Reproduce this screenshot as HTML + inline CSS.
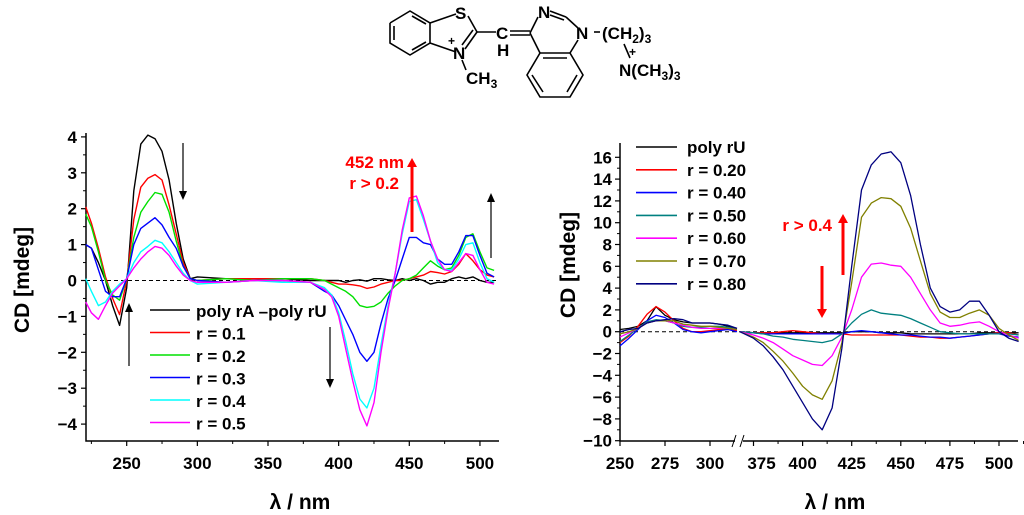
<!DOCTYPE html>
<html><head><meta charset="utf-8"><style>
body{margin:0;background:#fff;}
svg{display:block;font-family:"Liberation Sans",Arial,sans-serif;font-weight:bold;}
</style></head><body>
<svg id="fig" width="1024" height="515" viewBox="0 0 1024 515">
<g id="structure" stroke="#000" stroke-width="1.6" fill="none">
  <polyline points="390,23 390,43 410,55 430,43 430,23 410,11 390,23"/>
  <line x1="394" y1="26" x2="394" y2="40"/><line x1="412" y1="50" x2="426" y2="42"/><line x1="412" y1="16" x2="426" y2="24"/>
  <line x1="430" y1="23" x2="456" y2="14"/><line x1="468" y1="16" x2="477" y2="32"/>
  <line x1="477" y1="32" x2="465" y2="49"/><line x1="473" y1="30" x2="462" y2="45"/>
  <line x1="456" y1="52" x2="430" y2="43"/>
  <line x1="462" y1="60" x2="466" y2="70"/>
  <line x1="477" y1="32" x2="496" y2="32"/>
  <line x1="510" y1="31" x2="530" y2="31"/><line x1="510" y1="35" x2="530" y2="35"/>
  <line x1="530" y1="33" x2="538" y2="17"/><line x1="550" y1="11" x2="566" y2="17"/><line x1="550" y1="15" x2="564" y2="20"/>
  <line x1="566" y1="17" x2="578" y2="28"/><line x1="578" y1="40" x2="570" y2="53"/>
  <line x1="530" y1="33" x2="540" y2="53"/>
  <polyline points="540,53 570,53 583,75 570,97 540,97 527,75 540,53"/>
  <line x1="543" y1="58" x2="567" y2="58"/><line x1="577" y1="75" x2="567" y2="92"/><line x1="532" y1="75" x2="543" y2="92"/>
  <line x1="594" y1="32" x2="600" y2="32"/>
  <line x1="624" y1="44" x2="630" y2="58"/>
</g>
<g font-size="17" fill="#000">
  <text x="455" y="19">S</text>
  <text x="453" y="59">N</text><text x="448" y="45" font-size="12">+</text>
  <text x="466" y="84">CH<tspan font-size="12" dy="4">3</tspan></text>
  <text x="496" y="39">C</text><text x="497" y="56">H</text>
  <text x="538" y="18">N</text>
  <text x="576" y="39">N</text>
  <text x="602" y="39">(CH<tspan font-size="12" dy="4">2</tspan><tspan dy="-4">)</tspan><tspan font-size="12" dy="4">3</tspan></text>
  <text x="629" y="56" font-size="12">+</text>
  <text x="619" y="76">N(CH<tspan font-size="12" dy="4">3</tspan><tspan dy="-4">)</tspan><tspan font-size="12" dy="4">3</tspan></text>
</g>
<g id="left"></g>
<g id="right"></g>
</svg>
<script>
// ---------- Left chart data ----------
const lamL = [221,225,230,235,240,245,250,255,260,265,270,275,280,285,290,295,300,320,340,360,380,390,395,400,405,410,415,420,425,430,435,440,445,450,455,460,465,470,475,480,485,490,495,500,505,510];
const polyAU = [1.0,0.9,0.5,0.0,-0.7,-1.25,-0.2,2.5,3.8,4.05,3.95,3.6,2.8,1.6,0.6,0.05,0.1,0.05,0.05,0.05,0.0,0.0,0.0,0.0,-0.05,0.0,0.02,-0.02,0.05,0.05,0.02,0.0,0.05,0.0,0.05,0.0,-0.1,-0.05,-0.05,0.05,0.1,0.05,0.1,0.0,-0.05,-0.05];
const rL01 = [2.05,1.6,0.9,0.1,-0.5,-0.95,0.0,1.7,2.6,2.85,2.95,2.8,2.1,1.3,0.5,0.05,0.0,0.05,0.05,0.05,0.05,0,-0.05,-0.1,-0.1,-0.12,-0.15,-0.22,-0.18,-0.1,-0.05,0.0,0.0,0.05,0.1,0.15,0.25,0.22,0.18,0.25,0.45,0.75,0.55,0.3,0.15,0.1];
const rL02 = [1.85,1.5,0.8,0.0,-0.4,-0.55,0.05,1.2,1.9,2.2,2.45,2.4,1.9,1.1,0.4,0.05,0.0,0.05,0.0,0.05,0.05,0.0,-0.1,-0.2,-0.3,-0.45,-0.7,-0.75,-0.72,-0.6,-0.35,-0.15,0.0,0.05,0.15,0.35,0.55,0.4,0.3,0.35,0.7,1.2,1.3,0.8,0.35,0.28];
const rL03 = [1.0,0.9,0.3,-0.3,-0.45,-0.45,0.05,1.0,1.45,1.6,1.75,1.55,1.2,0.9,0.4,0.05,0.0,-0.05,0.0,0.0,-0.05,-0.3,-0.4,-0.7,-1.1,-1.5,-2.0,-2.25,-2.0,-1.2,-0.5,0.0,0.6,1.2,1.2,1.05,1.0,0.6,0.45,0.45,0.8,1.25,1.25,0.7,0.2,0.1];
const rL04 = [0.05,-0.3,-0.7,-0.6,-0.3,-0.1,0.05,0.5,0.8,0.95,1.12,1.05,0.8,0.5,0.2,0.0,-0.1,-0.05,0.0,-0.05,-0.05,-0.2,-0.4,-0.9,-1.7,-2.6,-3.3,-3.55,-3.0,-1.8,-0.7,0.2,1.3,2.2,2.25,1.7,1.1,0.5,0.3,0.3,0.6,1.0,1.05,0.5,0.05,-0.05];
const rL05 = [-0.6,-0.9,-1.08,-0.7,-0.35,-0.15,0.05,0.35,0.6,0.8,0.95,0.9,0.7,0.4,0.15,0.0,-0.05,-0.05,0.0,0.0,-0.05,-0.25,-0.45,-1.0,-1.9,-2.8,-3.6,-4.05,-3.4,-2.0,-0.8,0.2,1.4,2.3,2.35,1.8,1.1,0.6,0.3,0.25,0.5,0.75,0.7,0.3,-0.05,-0.1];
const yTicksL = [-4,-3,-2,-1,0,1,2,3,4];
const xTicksL = [250,300,350,400,450,500];
const legendL = ["poly rA \u2013poly rU","r = 0.1","r = 0.2","r = 0.3","r = 0.4","r = 0.5"];

// ---------- Right chart data ----------
const lamRA = [250,255,260,265,270,275,280,285,290,295,300,305,310,315];
const lamRB = [368,375,380,385,390,395,400,405,410,415,420,425,430,435,440,445,450,455,460,465,470,475,480,485,490,495,500,505,510];
const rUA = [0.2,0.3,0.5,1.0,2.3,1.5,1.1,0.9,0.8,0.8,0.8,0.7,0.5,0.3];
const rUB = [0,-0.1,-0.1,-0.1,-0.1,-0.1,-0.1,-0.1,-0.1,-0.1,-0.1,0,0,0,-0.1,-0.1,-0.1,-0.2,-0.2,-0.2,-0.2,-0.2,-0.2,-0.2,-0.1,-0.1,-0.1,-0.1,-0.1];
const r20A = [-1.0,-0.4,0.5,1.6,2.3,1.8,1.0,0.3,0.0,0.0,0.1,0.2,0.2,0.1];
const r20B = [0,-0.1,-0.1,-0.1,0,0.1,0,-0.1,-0.2,-0.2,-0.2,-0.3,-0.3,-0.3,-0.3,-0.3,-0.3,-0.4,-0.5,-0.5,-0.6,-0.6,-0.5,-0.4,-0.3,-0.2,-0.1,-0.1,-0.3];
const r40A = [-1.3,-0.6,0.2,1.0,1.5,1.3,0.8,0.2,0.0,-0.1,0.0,0.1,0.2,0.0];
const r40B = [0,-0.1,-0.2,-0.2,-0.2,-0.2,-0.2,-0.2,-0.2,-0.2,-0.2,0,0.1,0,-0.1,-0.2,-0.3,-0.3,-0.4,-0.5,-0.5,-0.6,-0.5,-0.4,-0.3,-0.2,-0.2,-0.4,-0.5];
const r50A = [-0.9,-0.3,0.3,0.9,1.1,1.0,0.8,0.5,0.4,0.4,0.5,0.5,0.4,0.2];
const r50B = [0,-0.1,-0.2,-0.4,-0.5,-0.7,-0.8,-0.9,-1.0,-0.8,-0.2,0.8,1.6,2.0,1.7,1.6,1.5,1.2,0.8,0.4,0.0,-0.1,-0.2,-0.2,-0.2,-0.2,-0.2,-0.2,-0.3];
const r60A = [-0.5,-0.1,0.3,0.8,1.0,1.0,0.8,0.6,0.4,0.3,0.3,0.3,0.3,0.2];
const r60B = [0,-0.3,-0.6,-1.0,-1.6,-2.2,-2.6,-3.0,-3.1,-2.2,-0.5,2.0,5.0,6.2,6.3,6.1,6.0,5.0,3.5,2.0,0.8,0.5,0.6,0.8,0.9,0.5,0.0,-0.3,-0.6];
const r70A = [-0.2,0.0,0.3,0.8,1.0,1.0,1.0,0.7,0.6,0.5,0.5,0.4,0.3,0.2];
const r70B = [0,-0.5,-1.0,-1.8,-2.7,-3.8,-5.0,-5.8,-6.2,-4.5,-1.0,4.5,10.5,11.8,12.3,12.2,11.5,9.5,6.5,3.5,1.8,1.3,1.3,1.7,2.0,1.5,0.3,-0.3,-0.8];
const r80A = [0.0,0.2,0.3,0.8,1.0,1.1,1.2,1.1,0.8,0.8,0.8,0.7,0.6,0.3];
const r80B = [0,-0.6,-1.3,-2.3,-3.5,-5.0,-6.5,-8.0,-9.0,-7.0,-1.5,6.0,13.0,15.3,16.3,16.5,15.5,12.5,8.0,4.0,2.3,1.8,2.0,2.8,2.8,1.5,0.0,-0.6,-0.9];
const yTicksR = [-10,-8,-6,-4,-2,0,2,4,6,8,10,12,14,16];
const xTicksRA = [250,275,300];
const xTicksRB = [375,400,425,450,475,500];
const legendR = ["poly rU","r = 0.20","r = 0.40","r = 0.50","r = 0.60","r = 0.70","r = 0.80"];

const NS="http://www.w3.org/2000/svg";
function mk(parent,tag,attrs,text){const e=document.createElementNS(NS,tag);for(const k in attrs)e.setAttribute(k,attrs[k]);if(text!==undefined)e.textContent=text;parent.appendChild(e);return e;}
function pathD(xs,ys,fx,fy){return xs.map((x,i)=>(i?'L':'M')+fx(x).toFixed(1)+','+fy(ys[i]).toFixed(1)).join(' ');}
function arrow(g,x,y1,y2,color,w,name){
  const l=mk(g,'line',{x1:x,y1:y1,x2:x,y2:y2+(y2>y1?-6:6),stroke:color,'stroke-width':w});
  
  
  const d=y2>y1?1:-1; const hw=w>1.5?5:4;
  const p=mk(g,'polygon',{points:`${x-hw},${y2-9*d} ${x+hw},${y2-9*d} ${x},${y2}`,fill:color});
  
  
}

// ===== Left chart =====
(function(){
  const g=document.getElementById('left');
  const xL=l=>126.7+(l-250)*1.413, yL=v=>280.5-v*35.9;
  const X0=86,X1=499,Y0=441,YT=133;
  mk(g,'line',{x1:X0,y1:yL(0),x2:X1,y2:yL(0),stroke:'#000','stroke-width':1,'stroke-dasharray':'4,3'});
  const ax=mk(g,'path',{d:`M${X0},${YT} L${X0},${Y0} L${X1},${Y0}`,stroke:'#000','stroke-width':1.5,fill:'none'});
  
  
  yTicksL.forEach(v=>{
    mk(g,'line',{x1:X0-5,y1:yL(v),x2:X0,y2:yL(v),stroke:'#000','stroke-width':1.2});
    if(v<4) mk(g,'line',{x1:X0-3,y1:yL(v+0.5),x2:X0,y2:yL(v+0.5),stroke:'#000','stroke-width':1});
    const t=mk(g,'text',{x:X0-9,y:yL(v)+6,'text-anchor':'end','font-size':17},(v<0?'\u2212':'')+Math.abs(v));
    
    
  });
  xTicksL.forEach(l=>{
    mk(g,'line',{x1:xL(l),y1:Y0,x2:xL(l),y2:Y0+5,stroke:'#000','stroke-width':1.2});
    mk(g,'line',{x1:xL(l-25),y1:Y0,x2:xL(l-25),y2:Y0+3,stroke:'#000','stroke-width':1});
    const t=mk(g,'text',{x:xL(l),y:469,'text-anchor':'middle','font-size':17},String(l));
    
    
  });
  const series=[polyAU,rL01,rL02,rL03,rL04,rL05];
  const cols=['#000','#ff0000','#00e000','#0000ff','#00ffff','#ff00ff'];
  series.forEach((s,i)=>{
    const p=mk(g,'path',{d:pathD(lamL,s,xL,yL),stroke:cols[i],'stroke-width':1.4,fill:'none','stroke-linejoin':'round'});
    
    
  });
  legendL.forEach((t,i)=>{
    const y=311+i*22.5;
    const ln=mk(g,'line',{x1:150,y1:y-1,x2:190,y2:y-1,stroke:cols[i],'stroke-width':1.6});
    
    
    const tx=mk(g,'text',{x:196,y:y+6,'font-size':17},t);
    
    
  });
  arrow(g,183,143,200,'#000',1.2,'arrow-down-270');
  arrow(g,129,366,303,'#000',1.2,'arrow-up-250');
  arrow(g,330,327,388,'#000',1.2,'arrow-down-395');
  arrow(g,491,258,193,'#000',1.2,'arrow-up-510');
  arrow(g,412,232,158,'#ff0000',3,'red-arrow-452');
  const a1=mk(g,'text',{x:404,y:168,'text-anchor':'end','font-size':17,fill:'#ff0000'},'452 nm');
  
  
  const a2=mk(g,'text',{x:399,y:189,'text-anchor':'end','font-size':17,fill:'#ff0000'},'r > 0.2');
  
  
  const yl=mk(g,'text',{x:0,y:0,transform:'translate(29,280) rotate(-90)','text-anchor':'middle','font-size':21},'CD [mdeg]');
  
  
  const xl=mk(g,'text',{x:300,y:509,'text-anchor':'middle','font-size':21},'\u03bb / nm');
  
  
})();

// ===== Right chart =====
(function(){
  const g=document.getElementById('right');
  const xA=l=>620+(l-250)*1.8, xB=l=>851.7+(l-425)*1.964, yR=v=>331.7-v*10.9;
  const X0=620,X1=1018,Y0=441,YT=143,BR1=735,BR2=743;
  mk(g,'line',{x1:X0,y1:yR(0),x2:X1,y2:yR(0),stroke:'#000','stroke-width':1,'stroke-dasharray':'4,3'});
  const ax=mk(g,'path',{d:`M${X0},${YT} L${X0},${Y0} L${BR1},${Y0} M${BR2},${Y0} L${X1},${Y0}`,stroke:'#000','stroke-width':1.5,fill:'none'});
  
  
  mk(g,'path',{d:`M${BR1-3},${Y0+6} L${BR1+1},${Y0-6} M${BR2-3},${Y0+6} L${BR2+1},${Y0-6}`,stroke:'#000','stroke-width':1});
  yTicksR.forEach(v=>{
    mk(g,'line',{x1:X0-5,y1:yR(v),x2:X0,y2:yR(v),stroke:'#000','stroke-width':1.2});
    if(v<16) mk(g,'line',{x1:X0-3,y1:yR(v+1),x2:X0,y2:yR(v+1),stroke:'#000','stroke-width':1});
    const t=mk(g,'text',{x:X0-8,y:yR(v)+6,'text-anchor':'end','font-size':17},(v<0?'\u2212':'')+Math.abs(v));
    
    
  });
  xTicksRA.forEach(l=>{
    mk(g,'line',{x1:xA(l),y1:Y0,x2:xA(l),y2:Y0+5,stroke:'#000','stroke-width':1.2});
    const t=mk(g,'text',{x:xA(l),y:469,'text-anchor':'middle','font-size':17},String(l));
    
    
  });
  xTicksRB.forEach(l=>{
    mk(g,'line',{x1:xB(l),y1:Y0,x2:xB(l),y2:Y0+5,stroke:'#000','stroke-width':1.2});
    mk(g,'line',{x1:xB(l+12.5),y1:Y0,x2:xB(l+12.5),y2:Y0+3,stroke:'#000','stroke-width':1});
    const t=mk(g,'text',{x:xB(l)+(l===375?8:0),y:469,'text-anchor':'middle','font-size':17},String(l));
    
    
  });
  const sA=[rUA,r20A,r40A,r50A,r60A,r70A,r80A], sB=[rUB,r20B,r40B,r50B,r60B,r70B,r80B];
  const cols=['#000','#ff0000','#0000ff','#008080','#ff00ff','#808000','#000080'];
  sA.forEach((s,i)=>{
    const p=mk(g,'path',{d:pathD(lamRA,s,xA,yR)+' '+pathD(lamRB,sB[i],xB,yR),stroke:cols[i],'stroke-width':1.3,fill:'none','stroke-linejoin':'round'});
    
    
  });
  legendR.forEach((t,i)=>{
    const y=147+i*22.8;
    const ln=mk(g,'line',{x1:636,y1:y,x2:677,y2:y,stroke:cols[i],'stroke-width':1.6});
    
    
    const tx=mk(g,'text',{x:687,y:y+6,'font-size':17},t);
    
    
  });
  arrow(g,843,275,214,'#ff0000',3,'red-arrow-up');
  arrow(g,822,266,318,'#ff0000',3,'red-arrow-down');
  const a=mk(g,'text',{x:832,y:231,'text-anchor':'end','font-size':17,fill:'#ff0000'},'r > 0.4');
  
  
  const yl=mk(g,'text',{x:0,y:0,transform:'translate(575,265) rotate(-90)','text-anchor':'middle','font-size':21},'CD [mdeg]');
  
  
  const xl=mk(g,'text',{x:835,y:509,'text-anchor':'middle','font-size':21},'\u03bb / nm');
  
  
})();
</script>
</body></html>
